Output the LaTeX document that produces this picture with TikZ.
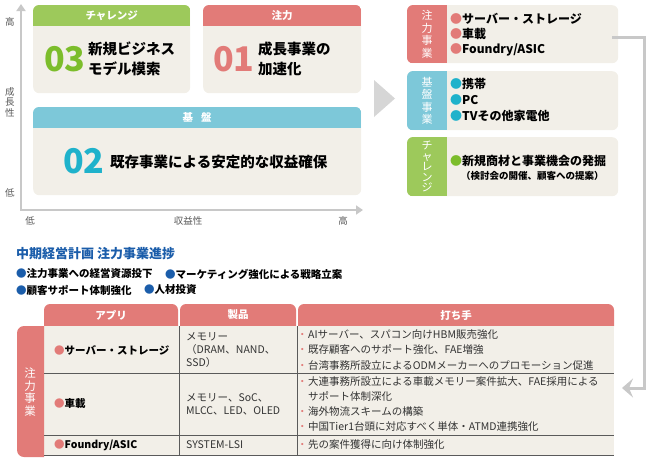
\documentclass[tikz,border=0pt]{standalone}
\usepackage{fontspec}
\setmainfont{Noto Sans CJK JP}
\usetikzlibrary{positioning, calc, arrows.meta}

\definecolor{chuRed}{HTML}{E27B78}
\definecolor{kibanCyan}{HTML}{7DC8D9}
\definecolor{challGreen}{HTML}{9DC95B}
\definecolor{numGreen}{HTML}{7CBD2B}
\definecolor{numCyan}{HTML}{1FB2CB}
\definecolor{cardBg}{HTML}{F2EFE8}
\definecolor{axisGray}{HTML}{C8C8C8}
\definecolor{arrowGray}{HTML}{D6D6D6}
\definecolor{planBlue}{HTML}{1B5DAA}
\definecolor{gridGray}{HTML}{5A5A5A}
\definecolor{bodyText}{HTML}{333333}

\newcommand{\actpt}{\makebox[9pt][l]{\hspace{-2pt}\textcolor{chuRed}{・}}}

\begin{document}
\begin{tikzpicture}[
    x=1pt, y=-1pt,
    every node/.style={inner sep=0pt, text=bodyText},
    card/.style={fill=cardBg, rounded corners=6pt, anchor=north west},
    headtxt/.style={text=white, font=\fontsize{10.5}{12}\selectfont\bfseries},
    axislbl/.style={text=black!65, font=\fontsize{9.5}{10.5}\selectfont},
    bignum/.style={anchor=west, font=\fontsize{34}{34}\selectfont\bfseries},
    quadtxt/.style={anchor=west, align=left, text=black, font=\fontsize{14.5}{19.5}\selectfont\bfseries},
    tabtxt/.style={align=center, text=white, font=\fontsize{11}{12.5}\selectfont},
    listtxt/.style={anchor=west, align=left, text=black, font=\fontsize{12}{15}\selectfont\bfseries},
    bullettxt/.style={anchor=west, text=black, font=\fontsize{10.5}{12}\selectfont\bfseries},
    cell/.style={anchor=west, align=left, font=\fontsize{10.5}{13}\selectfont},
    act/.style={anchor=west, align=left, font=\fontsize{10.5}{15.5}\selectfont},
    rowline/.style={draw=gridGray, line width=0.8pt}
  ]
  \useasboundingbox (0,0) rectangle (648,458);

  % axes
  \coordinate (orig) at (21,210);
  \draw[draw=axisGray, line width=2.5pt, {Triangle[length=7pt,width=9pt]}-{Triangle[length=7pt,width=9pt]}]
    (21,4) -- (orig) -- (363,210);
  \node[axislbl] (yHigh) at (10,22) {高};
  \node[axislbl, align=center] (yLbl) at (10,102) {成\\長\\性};
  \node[axislbl] (yLow) at (10,193) {低};
  \node[axislbl] (xLow) at (30,221) {低};
  \node[axislbl] (xLbl) at (188,221) {収益性};
  \node[axislbl] (xHigh) at (343,221) {高};

  % quadrants
  \node[card, minimum width=157pt, minimum height=88pt] (q03) at (33,5) {};
  \node[card, minimum width=158pt, minimum height=88pt] (q01) at (203,5) {};
  \node[card, minimum width=328pt, minimum height=88pt] (q02) at (33,107) {};
  \foreach \qn/\hcol/\ttl in {q03/challGreen/チャレンジ, q01/chuRed/注力, q02/kibanCyan/基\hspace{8pt}盤} {
    \begin{scope}
      \clip[rounded corners=6pt] (\qn.north west) rectangle (\qn.south east);
      \fill[\hcol] (\qn.north west) rectangle ([yshift=-21pt]\qn.north east);
    \end{scope}
    \node[headtxt] (\qn-head) at ([yshift=-10.5pt]\qn.north) {\ttl};
  }
  \node[bignum, text=numGreen] (n03) at (44,59) {03};
  \node[quadtxt] (t03) at (88,59) {新規ビジネス\\モデル模索};
  \node[bignum, text=chuRed] (n01) at (213,59) {01};
  \node[quadtxt] (t01) at (258,59) {成長事業の\\加速化};
  \node[bignum, text=numCyan] (n02) at (63,161) {02};
  \node[quadtxt] (t02) at (110,162) {既存事業による安定的な収益確保};

  \fill[arrowGray] (374,80) -- (395,98.5) -- (374,117) -- cycle;

  % right panel
  \node[card, minimum width=211pt, minimum height=58pt] (r1) at (407,5) {};
  \node[card, minimum width=211pt, minimum height=59pt] (r2) at (407,71) {};
  \node[card, minimum width=211pt, minimum height=59pt] (r3) at (407,137) {};
  \foreach \rn/\hcol in {r1/chuRed, r2/kibanCyan, r3/challGreen} {
    \begin{scope}
      \clip[rounded corners=6pt] (\rn.north west) rectangle (\rn.south east);
      \fill[\hcol] (\rn.north west) rectangle ([xshift=40pt]\rn.south west);
    \end{scope}
  }
  \node[tabtxt] (r1-tab) at ([xshift=20pt]r1.west) {注\\力\\事\\業};
  \node[tabtxt] (r2-tab) at ([xshift=20pt]r2.west) {基\\盤\\事\\業};
  \node[tabtxt, font=\fontsize{11}{10.5}\selectfont] (r3-tab) at ([xshift=20pt]r3.west) {チ\\ャ\\レ\\ン\\ジ};
  \node[listtxt] (r1-list) at (450,35)
    {\textcolor{chuRed}{●}サーバー・ストレージ\\\textcolor{chuRed}{●}車載\\\textcolor{chuRed}{●}Foundry/ASIC};
  \node[listtxt, font=\fontsize{12}{16}\selectfont\bfseries] (r2-list) at (450,100)
    {\textcolor{numCyan}{●}携帯\\\textcolor{numCyan}{●}PC\\\textcolor{numCyan}{●}TVその他家電他};
  \node[listtxt] (r3-list) at (450,161) {\textcolor{numGreen}{●}新規商材と事業機会の発掘};
  \node[listtxt, font=\fontsize{9.5}{11}\selectfont\bfseries] (r3-note) at (461,176) {（検討会の開催、顧客への提案）};

  \coordinate (turn) at (644,388);
  \coordinate (retEnd) at (622,388);
  \draw[draw=axisGray, line width=3pt, -{Stealth[length=11pt,width=19pt,inset=4pt]}]
    ([xshift=-6pt,yshift=-3pt]r1.east) -| (turn) -- (retEnd);

  % plan
  \node[anchor=west, text=planBlue, font=\fontsize{13}{14}\selectfont\bfseries] (plan) at (16,254) {中期経営計画 注力事業進捗};
  \node[bullettxt] (b1) at (16,274) {\textcolor{planBlue}{●}注力事業への経営資源投下};
  \node[bullettxt, right=12pt of b1] (b2) {\textcolor{planBlue}{●}マーケティング強化による戦略立案};
  \node[bullettxt] (b3) at (16,290) {\textcolor{planBlue}{●}顧客サポート体制強化};
  \node[bullettxt, right=12pt of b3] (b4) {\textcolor{planBlue}{●}人材投資};

  % table
  \foreach \xa/\xb/\nm/\ttl in {44/178/hApp/アプリ, 180/296/hProd/製品, 298/614/hAct/打ち手} {
    \fill[chuRed, rounded corners=6pt] (\xa,326) -- (\xa,304) -- (\xb,304) -- (\xb,326);
    \node[headtxt] (\nm) at ({(\xa+\xb)/2},315) {\ttl};
  }
  \fill[cardBg] (44,326) rectangle (614,455);
  \fill[chuRed, rounded corners=7pt] (44,326) -- (17,326) -- (17,457) -- (44,457);
  \node[tabtxt, font=\fontsize{11.5}{12.5}\selectfont] (tblTab) at (30,392) {注\\力\\事\\業};
  \foreach \yy in {373,435,455} \draw[rowline] (44,\yy) -- (614,\yy);
  \foreach \xx in {179,297} \draw[rowline] (\xx,326) -- (\xx,455);

  \node[cell, text=black, font=\fontsize{10.5}{12}\selectfont\bfseries] (app1) at (54,350) {\textcolor{chuRed}{●}サーバー・ストレージ};
  \node[cell, text=black, font=\fontsize{10.5}{12}\selectfont\bfseries] (app2) at (54,404) {\textcolor{chuRed}{●}車載};
  \node[cell, text=black, font=\fontsize{10.5}{12}\selectfont\bfseries] (app3) at (54,445) {\textcolor{chuRed}{●}Foundry/ASIC};

  \node[cell] (prod1) at (186,350) {メモリー\\（DRAM、NAND、\\SSD）};
  \node[cell] (prod2) at (186,404) {メモリー、SoC、\\MLCC、LED、OLED};
  \node[cell] (prod3) at (186,445) {SYSTEM-LSI};

  \node[act] (act1) at (299,350)
    {\actpt AIサーバー、スパコン向けHBM販売強化\\\actpt 既存顧客へのサポート強化、FAE増強\\\actpt 台湾事務所設立によるODMメーカーへのプロモーション促進};
  \node[act, font=\fontsize{10.5}{14.7}\selectfont] (act2) at (299,404)
    {\actpt 大連事務所設立による車載メモリー案件拡大、FAE採用による\\\hspace*{9pt}サポート体制深化\\\actpt 海外物流スキームの構築\\\actpt 中国Tier1台頭に対応すべく単体・ATMD連携強化};
  \node[act] (act3) at (299,445) {\actpt 先の案件獲得に向け体制強化};
\end{tikzpicture}
\end{document}
